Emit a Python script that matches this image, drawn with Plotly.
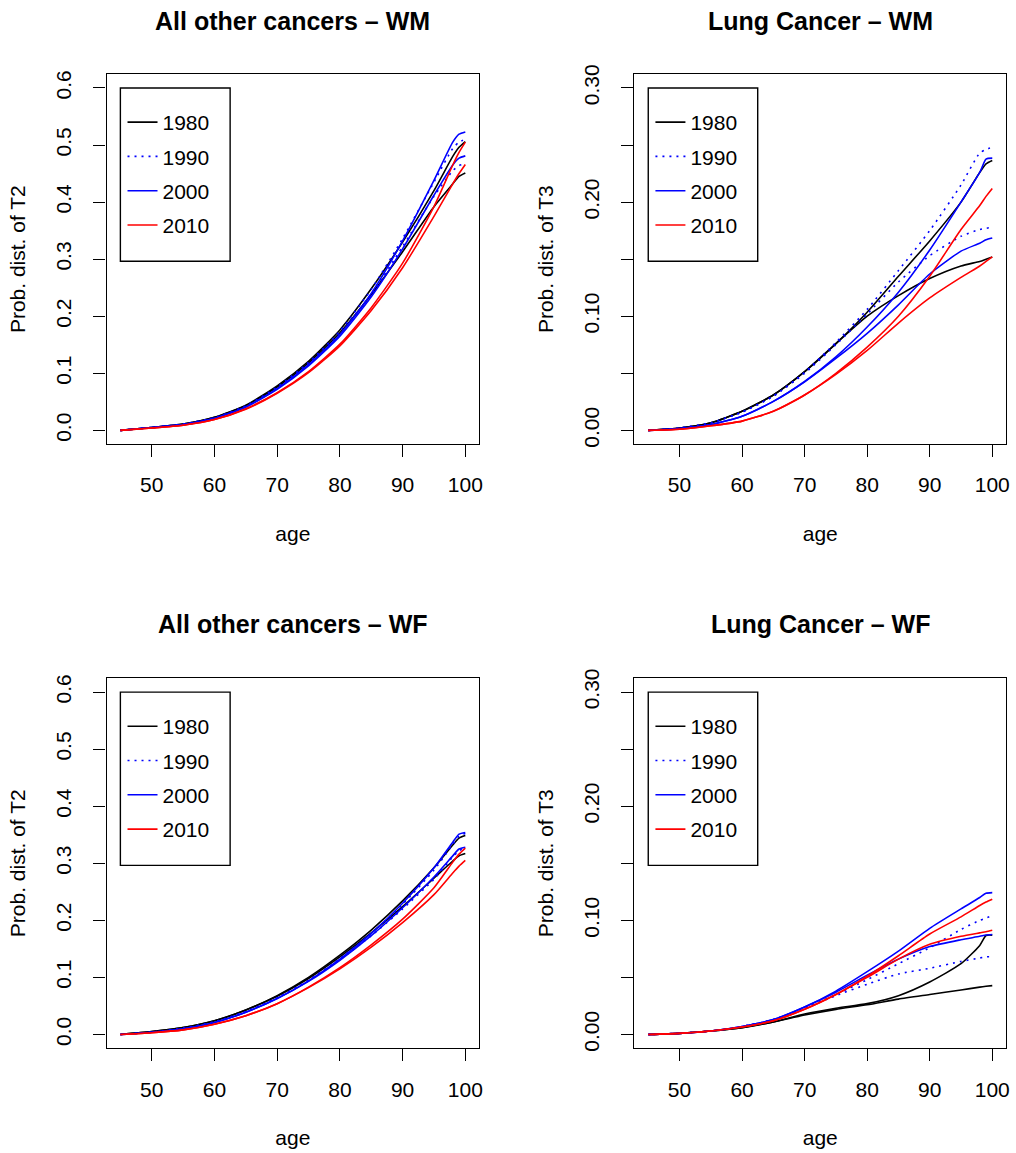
import plotly.graph_objects as go

# ---------------------------------------------------------------------------
# Data: cumulative probability by age, two curves per calendar year
# ---------------------------------------------------------------------------
AGES = [45, 50, 55, 60, 65, 70, 75, 80, 85, 90, 95, 98, 99, 100]
YEARS = ["1980", "1990", "2000", "2010"]

# All other cancers - WM
wm_other_1980_a = [0, 0.005, 0.011, 0.023, 0.044, 0.078, 0.121, 0.176, 0.248, 0.330, 0.420, 0.480, 0.496, 0.506]
wm_other_1980_b = [0, 0.005, 0.011, 0.023, 0.043, 0.076, 0.118, 0.171, 0.238, 0.313, 0.392, 0.432, 0.445, 0.451]
wm_other_1990_a = [0, 0.005, 0.011, 0.022, 0.043, 0.076, 0.119, 0.174, 0.247, 0.336, 0.435, 0.494, 0.505, 0.510]
wm_other_1990_b = [0, 0.005, 0.011, 0.022, 0.042, 0.074, 0.116, 0.169, 0.238, 0.322, 0.410, 0.455, 0.464, 0.467]
wm_other_2000_a = [0, 0.005, 0.010, 0.021, 0.041, 0.073, 0.115, 0.168, 0.240, 0.332, 0.438, 0.505, 0.519, 0.523]
wm_other_2000_b = [0, 0.005, 0.010, 0.021, 0.041, 0.072, 0.113, 0.165, 0.234, 0.318, 0.412, 0.465, 0.477, 0.481]
wm_other_2010_a = [0, 0.004, 0.009, 0.019, 0.038, 0.066, 0.103, 0.151, 0.215, 0.293, 0.392, 0.465, 0.487, 0.505]
wm_other_2010_b = [0, 0.004, 0.009, 0.019, 0.037, 0.065, 0.101, 0.148, 0.210, 0.285, 0.375, 0.432, 0.450, 0.466]

# Lung Cancer - WM
wm_lung_1980_a = [0, 0.002, 0.0067, 0.0167, 0.031, 0.0514, 0.076, 0.1035, 0.135, 0.166, 0.200, 0.226, 0.2335, 0.2365]
wm_lung_1980_b = [0, 0.002, 0.0067, 0.0167, 0.031, 0.0514, 0.076, 0.100, 0.118, 0.133, 0.144, 0.148, 0.150, 0.152]
wm_lung_1990_a = [0, 0.002, 0.0065, 0.016, 0.030, 0.051, 0.077, 0.106, 0.140, 0.175, 0.215, 0.243, 0.246, 0.248]
wm_lung_1990_b = [0, 0.002, 0.0065, 0.016, 0.030, 0.050, 0.075, 0.102, 0.130, 0.153, 0.170, 0.176, 0.177, 0.178]
wm_lung_2000_a = [0, 0.0015, 0.005, 0.0124, 0.0254, 0.0428, 0.0644, 0.0905, 0.121, 0.158, 0.200, 0.226, 0.2377, 0.2385]
wm_lung_2000_b = [0, 0.0015, 0.005, 0.0124, 0.0254, 0.0425, 0.063, 0.085, 0.110, 0.137, 0.157, 0.164, 0.167, 0.1685]
wm_lung_2010_a = [0, 0.001, 0.004, 0.0081, 0.0167, 0.031, 0.050, 0.073, 0.100, 0.135, 0.176, 0.197, 0.205, 0.212]
wm_lung_2010_b = [0, 0.001, 0.004, 0.0081, 0.0167, 0.031, 0.049, 0.070, 0.094, 0.116, 0.134, 0.144, 0.148, 0.152]

# All other cancers - WF
wf_other_1980_a = [0, 0.005, 0.012, 0.024, 0.043, 0.068, 0.100, 0.139, 0.183, 0.234, 0.292, 0.332, 0.344, 0.3485]
wf_other_1980_b = [0, 0.005, 0.012, 0.024, 0.043, 0.067, 0.098, 0.136, 0.178, 0.224, 0.274, 0.304, 0.313, 0.317]
wf_other_1990_a = [0, 0.004, 0.011, 0.022, 0.040, 0.064, 0.095, 0.133, 0.177, 0.228, 0.288, 0.333, 0.347, 0.352]
wf_other_1990_b = [0, 0.004, 0.011, 0.022, 0.040, 0.064, 0.094, 0.131, 0.173, 0.220, 0.272, 0.311, 0.322, 0.327]
wf_other_2000_a = [0, 0.004, 0.010, 0.021, 0.039, 0.063, 0.094, 0.132, 0.177, 0.230, 0.292, 0.337, 0.351, 0.354]
wf_other_2000_b = [0, 0.004, 0.010, 0.021, 0.039, 0.063, 0.093, 0.130, 0.173, 0.222, 0.276, 0.313, 0.325, 0.328]
wf_other_2010_a = [0, 0.003, 0.008, 0.018, 0.033, 0.054, 0.083, 0.117, 0.157, 0.202, 0.257, 0.302, 0.316, 0.3266]
wf_other_2010_b = [0, 0.003, 0.008, 0.018, 0.033, 0.054, 0.082, 0.115, 0.153, 0.196, 0.245, 0.283, 0.295, 0.305]

# Lung Cancer - WF
wf_lung_1980_a = [0, 0.001, 0.003, 0.006, 0.011, 0.018, 0.023, 0.027, 0.034, 0.046, 0.062, 0.078, 0.0867, 0.087]
wf_lung_1980_b = [0, 0.001, 0.003, 0.006, 0.011, 0.017, 0.022, 0.026, 0.031, 0.035, 0.039, 0.0415, 0.0422, 0.0428]
wf_lung_1990_a = [0, 0.001, 0.003, 0.007, 0.013, 0.023, 0.035, 0.048, 0.062, 0.076, 0.092, 0.100, 0.102, 0.104]
wf_lung_1990_b = [0, 0.001, 0.003, 0.007, 0.013, 0.023, 0.034, 0.044, 0.053, 0.058, 0.064, 0.067, 0.068, 0.068]
wf_lung_2000_a = [0, 0.001, 0.003, 0.007, 0.013, 0.024, 0.038, 0.055, 0.073, 0.093, 0.110, 0.120, 0.1237, 0.1243]
wf_lung_2000_b = [0, 0.001, 0.003, 0.007, 0.013, 0.024, 0.037, 0.052, 0.066, 0.077, 0.083, 0.086, 0.0872, 0.0876]
wf_lung_2010_a = [0, 0.001, 0.003, 0.0065, 0.012, 0.022, 0.035, 0.051, 0.069, 0.088, 0.103, 0.113, 0.116, 0.1185]
wf_lung_2010_b = [0, 0.001, 0.003, 0.0065, 0.012, 0.022, 0.035, 0.050, 0.066, 0.079, 0.086, 0.089, 0.090, 0.0913]

# ---------------------------------------------------------------------------
# Layout helpers
# ---------------------------------------------------------------------------
W, H = 1016, 1153
FONT = "Liberation Sans, Arial, Helvetica, sans-serif"
BASE = 21

STYLES = {
    "1980": dict(color="black", dash="solid"),
    "1990": dict(color="#0000FF", dash="2px,5px"),
    "2000": dict(color="#0000FF", dash="solid"),
    "2010": dict(color="#FF0000", dash="solid"),
}

# plot boxes in pixels: (left, right, top, bottom)
BOXES = [(107, 481, 65, 439), (637, 1010, 65, 439),
         (107, 481, 676, 1050), (637, 1010, 676, 1050)]
TITLE_Y = [11, 11, 621, 621]

panels = [
    dict(title="All other cancers \u2013 WM", ytitle="Prob. dist. of T2", ymax=0.6, step=0.1, every=1, fmt="{:.1f}",
         series={"1980": (wm_other_1980_a, wm_other_1980_b), "1990": (wm_other_1990_a, wm_other_1990_b),
                 "2000": (wm_other_2000_a, wm_other_2000_b), "2010": (wm_other_2010_a, wm_other_2010_b)}),
    dict(title="Lung Cancer \u2013 WM", ytitle="Prob. dist. of T3", ymax=0.3, step=0.05, every=2, fmt="{:.2f}",
         series={"1980": (wm_lung_1980_a, wm_lung_1980_b), "1990": (wm_lung_1990_a, wm_lung_1990_b),
                 "2000": (wm_lung_2000_a, wm_lung_2000_b), "2010": (wm_lung_2010_a, wm_lung_2010_b)}),
    dict(title="All other cancers \u2013 WF", ytitle="Prob. dist. of T2", ymax=0.6, step=0.1, every=1, fmt="{:.1f}",
         series={"1980": (wf_other_1980_a, wf_other_1980_b), "1990": (wf_other_1990_a, wf_other_1990_b),
                 "2000": (wf_other_2000_a, wf_other_2000_b), "2010": (wf_other_2010_a, wf_other_2010_b)}),
    dict(title="Lung Cancer \u2013 WF", ytitle="Prob. dist. of T3", ymax=0.3, step=0.05, every=2, fmt="{:.2f}",
         series={"1980": (wf_lung_1980_a, wf_lung_1980_b), "1990": (wf_lung_1990_a, wf_lung_1990_b),
                 "2000": (wf_lung_2000_a, wf_lung_2000_b), "2010": (wf_lung_2010_a, wf_lung_2010_b)}),
]

fig = go.Figure()
layout = dict(
    width=W, height=H, margin=dict(l=0, r=0, t=0, b=0),
    paper_bgcolor="white", plot_bgcolor="white",
    font=dict(family=FONT, size=BASE, color="black"),
    showlegend=True, annotations=[], shapes=[],
)

xmin, xmax = 45, 100
xpad = 0.04 * (xmax - xmin)

for i, p in enumerate(panels, start=1):
    left, right, top, bottom = BOXES[i - 1]
    sfx = "" if i == 1 else str(i)
    legend_name = "legend" if i == 1 else f"legend{i}"

    for year in YEARS:
        st = STYLES[year]
        for k, vals in enumerate(p["series"][year]):
            fig.add_trace(go.Scatter(
                x=AGES, y=vals, mode="lines", name=year,
                line=dict(color=st["color"], dash=st["dash"], width=1.6, shape="spline", smoothing=0.6),
                legendgroup=f"{i}-{year}", showlegend=(k == 0), legend=legend_name,
                xaxis=f"x{sfx}", yaxis=f"y{sfx}", hoverinfo="skip",
            ))

    ymax = p["ymax"]
    nt = int(round(ymax / p["step"]))
    tickvals = [round(j * p["step"], 4) for j in range(nt + 1)]
    ticktext = [p["fmt"].format(v) if j % p["every"] == 0 else "" for j, v in enumerate(tickvals)]

    common = dict(showline=True, linecolor="black", linewidth=1.4, mirror=True,
                  ticks="outside", ticklen=12, tickwidth=1.4, tickcolor="black",
                  showgrid=False, zeroline=False, tickfont=dict(family=FONT, size=BASE))
    layout[f"xaxis{sfx}"] = dict(
        common, domain=[left / W, right / W], range=[xmin - xpad, xmax + xpad],
        anchor=f"y{sfx}", tickvals=[50, 60, 70, 80, 90, 100], ticklabelstandoff=10,
        title=dict(text="age", standoff=30, font=dict(family=FONT, size=BASE)),
    )
    layout[f"yaxis{sfx}"] = dict(
        common, domain=[1 - bottom / H, 1 - top / H], range=[-0.04 * ymax, 1.04 * ymax],
        anchor=f"x{sfx}", tickvals=tickvals, ticktext=ticktext, tickangle=-90, ticklabelstandoff=14,
        title=dict(text=p["ytitle"], standoff=20, font=dict(family=FONT, size=BASE)),
    )

    # panel title
    layout["annotations"].append(dict(
        text=f"<b>{p['title']}</b>", x=(left + right) / 2 / W, y=1 - TITLE_Y[i - 1] / H,
        xref="paper", yref="paper", xanchor="center", yanchor="middle", showarrow=False,
        font=dict(family=FONT, size=25, color="black"),
    ))

    # legend frame, anchored at (45, ymax) like legend(45, ymax, ...)
    layout["shapes"].append(dict(
        type="rect", xref=f"x{sfx}", yref=f"y{sfx}", x0=45, x1=62.5, y0=0.494 * ymax, y1=ymax,
        line=dict(color="black", width=1.4), fillcolor="rgba(0,0,0,0)", layer="above",
    ))
    layout[legend_name] = dict(
        x=(left + 16) / W, y=1 - (top + 28) / H, xanchor="left", yanchor="top",
        xref="paper", yref="paper", bgcolor="rgba(0,0,0,0)", borderwidth=0,
        font=dict(family=FONT, size=BASE), tracegroupgap=4, itemwidth=30,
        itemclick=False, itemdoubleclick=False,
    )

fig.update_layout(**layout)
fig.write_html("out.html")
